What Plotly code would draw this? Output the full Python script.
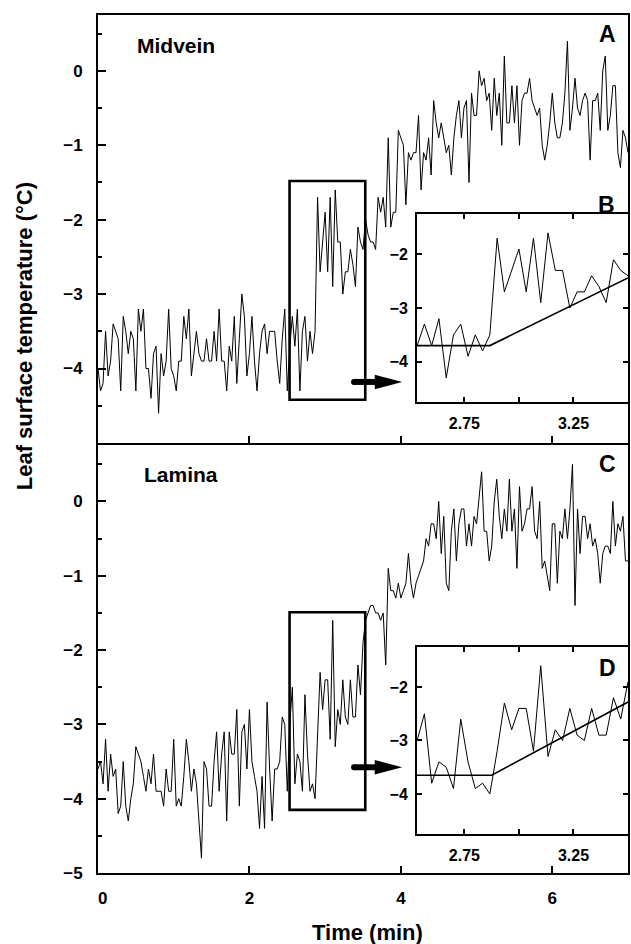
import plotly.graph_objects as go

# ---------------- data (°C, one sample every 2 s) ----------------
SAMPLE_MIN = 2 / 60.0

midvein_pre = [
    -4.0, -4.3, -4.2, -3.5, -4.1, -3.9, -3.4, -3.5, -3.6, -4.3,
    -3.3, -3.5, -3.8, -3.5, -3.6, -4.3, -3.2, -3.5, -3.2, -4.0,
    -4.0, -4.4, -3.8, -3.7, -4.6, -3.8, -4.1, -3.9, -3.2, -4.0,
    -4.1, -4.3, -3.9, -3.9, -3.3, -3.6, -3.2, -4.1, -3.8, -3.5,
    -3.8, -3.9, -3.9, -3.6, -3.9, -3.9, -3.5, -3.9, -3.2, -3.9,
    -3.9, -4.3, -3.7, -3.9, -3.3, -4.2, -3.6, -3.0, -3.3, -4.1,
    -3.8, -3.3, -3.9, -4.3, -3.8, -3.5, -3.4, -3.8, -3.5, -3.5,
    -3.5, -3.9, -4.2, -3.6, -3.2, -4.3]
midvein_inset = [
    -3.7, -3.3, -3.7, -3.2, -4.3, -3.5, -3.3, -3.9, -3.5, -3.8, -3.5,
    -1.7, -2.7, -2.3, -1.9, -2.7, -1.7, -2.9, -1.6, -2.3, -2.3, -3.0,
    -2.7, -2.7, -2.4, -2.6, -2.9, -2.1, -2.3, -2.4]
midvein_post = [
    -2.0, -2.2, -2.3, -2.3, -2.4,
    -1.7, -1.9, -1.7, -2.1, -0.9, -2.1, -1.9, -1.9, -0.8, -0.9,
    -1.0, -1.8, -1.1, -1.2, -1.1, -1.1, -0.6, -1.6, -1.1, -1.2,
    -0.9, -1.4, -0.4, -0.7, -0.9, -0.7, -0.9, -1.1, -1.0, -1.4,
    -0.9, -0.6, -0.4, -0.9, -0.5, -0.4, -1.5, -0.3, -0.6, -0.6,
    0.0, -0.2, -0.1, -0.4, -0.3, -0.8, -0.1, -0.6, -0.3, -1.0,
    0.2, -0.7, -0.7, -0.2, -0.7, -0.2, -1.0, -0.4, -0.3, -0.3,
    -0.1, -0.4, -0.5, -0.6, -0.5, -1.0, -1.2, -1.0, -0.7, -0.3,
    -0.7, -0.9, -0.9, -0.7, -0.3, 0.4, -0.8, -0.5, -0.1, -0.5,
    -0.6, -0.4, -0.3, -0.4, -1.2, -0.4, -0.4, -0.3, -0.8, 0.0,
    0.2, -0.8, -0.6, -0.2, -0.2, -1.1, -1.3, -0.8, -0.9, -1.1]

lamina_pre = [
    -3.6, -3.5, -3.8, -3.2, -3.9, -3.4, -3.7, -3.6, -4.2, -4.1,
    -3.5, -4.1, -4.3, -4.0, -3.8, -3.3, -3.4, -3.5, -3.7, -3.9,
    -3.6, -3.8, -3.4, -3.9, -3.9, -3.9, -4.1, -3.6, -3.9, -3.9,
    -3.2, -4.1, -4.0, -4.1, -3.7, -3.2, -3.5, -3.9, -3.6, -3.8,
    -4.3, -4.8, -3.5, -3.6, -4.1, -4.1, -3.5, -3.1, -3.9, -3.4,
    -3.1, -4.3, -3.1, -3.4, -3.4, -2.8, -4.1, -3.1, -3.0, -3.6,
    -2.8, -3.5, -3.7, -3.9, -4.4, -3.7, -4.4, -2.7, -3.6, -4.3,
    -3.6, -3.6, -3.5, -2.9, -3.0, -3.9]
lamina_inset = [
    -3.0, -2.5, -3.8, -3.4, -3.5, -3.9, -2.6, -3.4, -3.9, -3.8,
    -4.0, -3.2, -2.3, -2.8, -2.4, -2.4, -3.2, -1.6, -3.3, -2.8,
    -3.0, -2.4, -2.9, -3.0, -2.4, -2.9, -2.9, -2.2, -2.6, -1.9]
lamina_post = [
    -1.6, -1.5, -1.4, -1.4, -1.5, -1.5, -1.6, -1.5, -2.2, -0.9,
    -1.2, -1.2, -1.3, -1.1, -1.3, -1.2, -1.1, -0.7, -1.1, -1.3,
    -1.1, -1.0, -0.9, -0.8, -0.5, -0.6, -0.3, -0.3, -0.5, 0.0,
    -0.7, -0.2, -1.1, -1.2, -0.4, -0.1, -0.8, -0.3, -0.1, -0.1,
    -0.6, -0.3, -0.6, -0.2, -0.3, 0.1, 0.4, -0.4, -0.4, -0.8,
    -0.6, 0.0, 0.3, -0.2, -0.5, -0.1, -0.4, 0.3, -0.4, -0.1,
    -0.9, 0.2, -0.4, -0.3, -0.1, -0.1, 0.2, -0.4, -0.5, 0.0,
    -0.9, -0.8, -1.0, -1.2, -0.3, -0.3, -1.1, -0.4, -0.5, -0.1,
    -0.5, -0.1, 0.5, -1.4, -0.1, -0.7, -0.2, -0.2, -0.5, -0.3,
    -0.6, -0.5, -0.7, -1.1, -0.7, -0.6, -0.6, -0.7, 0.0, -0.6,
    -0.3, -0.4, -0.2, -0.8, -0.8]

# break-point fits shown in the insets (time min, temperature °C)
midvein_fit_t = [2.533, 2.867, 3.5]
midvein_fit_v = [-3.7, -3.7, -2.44]
lamina_fit_t = [2.533, 2.875, 3.5]
lamina_fit_v = [-3.65, -3.65, -2.28]

x_ticks = [0, 2, 4, 6]
x_tick_text = ["\u00a0\u00a00", "2", "4", "6"]
inset_x_ticks = [2.75, 3.0, 3.25]
inset_x_text = ["2.75", "", "3.25"]
inset_y_ticks = [-4, -3, -2]

# ---------------- assemble ----------------
midvein = midvein_pre + midvein_inset + midvein_post
lamina = lamina_pre + lamina_inset + lamina_post
time = [i * SAMPLE_MIN for i in range(len(midvein))]
i0 = len(midvein_pre)
i1 = i0 + len(midvein_inset)
inset_time = time[i0:i1]

FONT = "Liberation Sans, Arial, sans-serif"
thin = dict(color="black", width=1)
fitline = dict(color="black", width=1.6)

fig = go.Figure()
fig.add_trace(go.Scatter(x=time, y=midvein, xaxis="x2", yaxis="y2", mode="lines", line=thin))
fig.add_trace(go.Scatter(x=time, y=lamina, xaxis="x", yaxis="y", mode="lines", line=thin))
fig.add_trace(go.Scatter(x=inset_time, y=midvein_inset, xaxis="x3", yaxis="y3", mode="lines", line=thin))
fig.add_trace(go.Scatter(x=midvein_fit_t, y=midvein_fit_v, xaxis="x3", yaxis="y3", mode="lines", line=fitline))
fig.add_trace(go.Scatter(x=inset_time, y=lamina_inset, xaxis="x4", yaxis="y4", mode="lines", line=thin))
fig.add_trace(go.Scatter(x=lamina_fit_t, y=lamina_fit_v, xaxis="x4", yaxis="y4", mode="lines", line=fitline))

frame = dict(showline=True, mirror=True, linewidth=2, linecolor="black",
             showgrid=False, zeroline=False, ticks="inside", tickcolor="black")
main_y = dict(frame, ticklen=8, tickwidth=1.5, ticklabelstandoff=10,
              tickfont=dict(family=FONT, size=17, weight="bold", color="black"),
              minor=dict(tickmode="linear", tick0=0, dtick=0.5, ticks="inside",
                         ticklen=4, tickwidth=1.5, tickcolor="black", showgrid=False))
main_x = dict(frame, range=[0, 7], tickmode="array", tickvals=x_ticks, ticktext=x_tick_text,
              ticklen=7, tickwidth=1.5, ticklabelstandoff=9,
              tickfont=dict(family=FONT, size=17, weight="bold", color="black"))
inset_x = dict(frame, range=[2.533, 3.5], tickmode="array", tickvals=inset_x_ticks,
               ticktext=inset_x_text, ticklen=5, tickwidth=1.5, mirror="ticks",
               ticklabelstandoff=6,
               tickfont=dict(family=FONT, size=16, weight="bold", color="black"))
inset_y = dict(frame, range=[-4.75, -1.25], tickmode="array", tickvals=inset_y_ticks,
               ticklen=5, tickwidth=1.5, mirror="ticks", ticklabelstandoff=4,
               tickfont=dict(family=FONT, size=16, weight="bold", color="black"))

fig.update_layout(
    width=631, height=944,
    margin=dict(l=98, r=1, t=15, b=71),
    paper_bgcolor="white", plot_bgcolor="white",
    showlegend=False,
    font=dict(family=FONT, color="black"),
    xaxis=dict(main_x, domain=[0, 1], anchor="y"),
    yaxis=dict(main_y, domain=[0, 0.4988], anchor="x", range=[-5, 0.76],
               tickmode="array", tickvals=[-5, -4, -3, -2, -1, 0]),
    xaxis2=dict(main_x, domain=[0, 1], anchor="y2", matches="x", showticklabels=False),
    yaxis2=dict(main_y, domain=[0.5012, 1], anchor="x2", range=[-5, 0.75],
                tickmode="array", tickvals=[-4, -3, -2, -1, 0]),
    xaxis3=dict(inset_x, domain=[0.602, 1], anchor="y3"),
    yaxis3=dict(inset_y, domain=[0.549, 0.768], anchor="x3"),
    xaxis4=dict(inset_x, domain=[0.602, 1], anchor="y4"),
    yaxis4=dict(inset_y, domain=[0.0455, 0.2634], anchor="x4"),
)

# zoom-window boxes and arrows on the main panels
box_t = [2.53, 3.53]
boxes = [("x2", "y2", -4.42, -1.48), ("x", "y", -4.15, -1.49)]
arrows = [("x2", "y2", -4.18), ("x", "y", -3.577)]
shapes = []
for xr, yr, b0, b1 in boxes:
    shapes.append(dict(type="rect", xref=xr, yref=yr, x0=box_t[0], x1=box_t[1], y0=b0, y1=b1,
                       line=dict(color="black", width=2.6), layer="above"))
for xr, yr, ya in arrows:
    shapes.append(dict(type="line", xref=xr, yref=yr, x0=3.381, x1=3.70, y0=ya, y1=ya,
                       line=dict(color="black", width=6), layer="above"))
    shapes.append(dict(type="circle", xref=xr, yref=yr, x0=3.342, x1=3.420,
                       y0=ya - 0.04, y1=ya + 0.04, fillcolor="black",
                       line=dict(width=0), layer="above"))
    shapes.append(dict(type="path", xref=xr, yref=yr,
                       path=f"M 3.655 {ya + 0.098} L 4.017 {ya} L 3.655 {ya - 0.098} Z",
                       fillcolor="black", line=dict(width=0), layer="above"))
fig.update_layout(shapes=shapes)

def txt(s, x, y, size, xanchor="center", angle=0):
    return dict(text=s, x=x, y=y, xref="paper", yref="paper", showarrow=False,
                xanchor=xanchor, yanchor="middle", textangle=angle,
                font=dict(family=FONT, size=size, weight="bold", color="black"))

fig.update_layout(annotations=[
    txt("Midvein", 0.0695, 0.9639, 21, "left"),
    txt("Lamina", 0.0827, 0.4650, 21, "left"),
    txt("A", 0.9605, 0.9773, 23),
    txt("B", 0.9586, 0.7786, 23),
    txt("C", 0.9605, 0.4767, 23),
    txt("D", 0.9615, 0.2389, 23),
    txt("Leaf surface temperature (°C)", -0.137, 0.626, 22, angle=-90),
    txt("Time (min)", 0.509, -0.0688, 22),
])

fig.write_html("out.html", config={"displayModeBar": False},
               post_script="document.body.style.margin='0';document.body.style.overflow='hidden';")
